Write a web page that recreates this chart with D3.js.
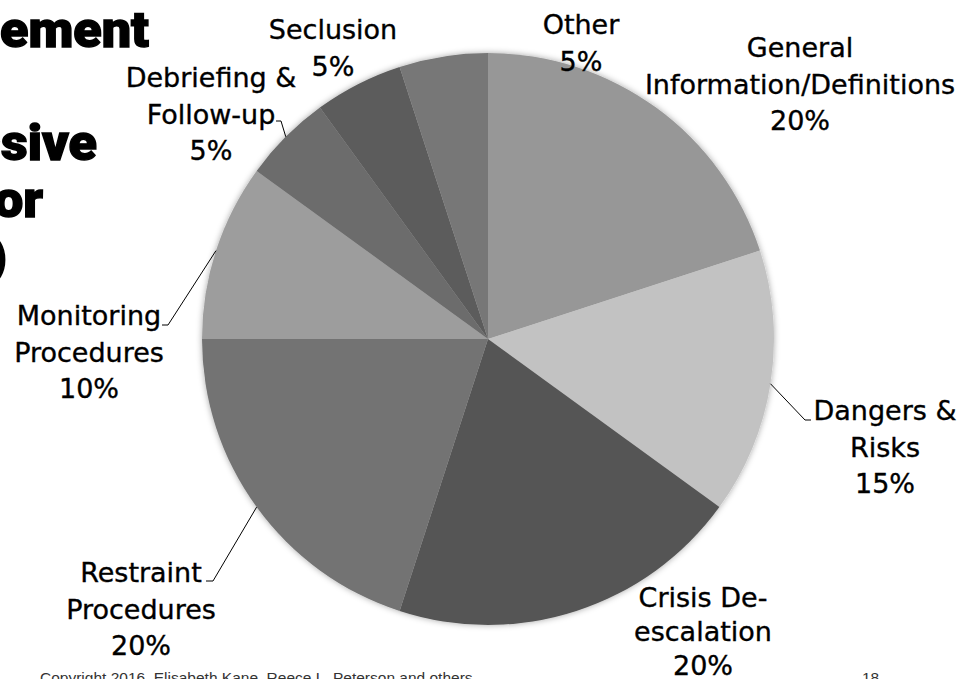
<!DOCTYPE html>
<html>
<head>
<meta charset="utf-8">
<script src="https://cdn.jsdelivr.net/npm/d3@7"></script>
<style>
  html, body { margin: 0; padding: 0; background: #ffffff; overflow: hidden; }
  svg { display: block; }
</style>
</head>
<body>
<svg id="chart" width="971" height="679"></svg>
<script>
// ---- data ----
const categories = ["General Information/Definitions", "Dangers & Risks", "Crisis De-escalation",
  "Restraint Procedures", "Monitoring Procedures", "Debriefing & Follow-up", "Seclusion", "Other"];
const labelLines = [["General", "Information/Definitions"], ["Dangers &", "Risks"], ["Crisis De-", "escalation"],
  ["Restraint", "Procedures"], ["Monitoring", "Procedures"], ["Debriefing &", "Follow-up"], ["Seclusion"], ["Other"]];
const values = [20, 15, 20, 20, 10, 5, 5, 5];
const titleLines = ["Management", "Aggressive", "Behavior", "(MAB)"];
const footerText = "Copyright 2016, Elisabeth Kane, Reece L. Peterson and others";
const pageNumber = "18";

// ---- styles / layout ----
const colors = ["#979797", "#c2c2c2", "#555555", "#737373", "#9d9d9d", "#6c6c6c", "#5b5b5b", "#777777"];
const cx = 488, cy = 339, R = 286;
// label anchor: centre x, first baseline y, line gap
const labelPos = [[800, 57, 36.5], [885, 420, 36.5], [703, 607, 34], [141, 582, 36.5],
  [89, 325, 36.5], [211, 87, 36.5], [333, 39, 36.5], [581, 34, 36.5]];
// leader line elbows (null = no leader)
const leaders = [null, [[805, 420], [811, 420]], null, [[213, 581], [206, 581]],
  [[168, 325], [162, 325]], [[281, 121], [276, 121]], null, null];
const titlePos = [[149, 47], [97, 160], [43, 217], [7, 274]];

const svg = d3.select("#chart");

// title text (partially off-slide on the left)
const titleG = svg.append("g");
const tt = titleG.selectAll("text").data(titleLines).join("text")
  .attr("text-anchor", "end")
  .attr("font-family", "Roboto, 'DejaVu Sans', sans-serif")
  .attr("font-weight", 900)
  .attr("font-size", 50)
  .attr("fill", "#000")
  .attr("stroke", "#000")
  .attr("stroke-width", 1.4)
  .text(d => d);
// stretch horizontally so "ement" spans the visible width like the reference
const first = tt.node();
const n = titleLines[0].length;
const w = first.getSubStringLength(n - 5, 5);
const sx = 149 / w;
tt.attr("transform", (d, i) => `translate(${titlePos[i][0]},${titlePos[i][1]}) scale(${sx},1)`);

// shadow filter
const defs = svg.append("defs");
const f = defs.append("filter").attr("id", "shadow").attr("x", "-10%").attr("y", "-10%").attr("width", "120%").attr("height", "120%");
f.append("feGaussianBlur").attr("in", "SourceAlpha").attr("stdDeviation", 3).attr("result", "blur");
f.append("feFlood").attr("flood-color", "#000").attr("flood-opacity", 0.35);
f.append("feComposite").attr("in2", "blur").attr("operator", "in").attr("result", "shadow");
const merge = f.append("feMerge");
merge.append("feMergeNode").attr("in", "shadow");
merge.append("feMergeNode").attr("in", "SourceGraphic");

const pie = d3.pie().sort(null).value(d => d)(values);
const arc = d3.arc().innerRadius(0).outerRadius(R);

const g = svg.append("g").attr("transform", `translate(${cx},${cy})`).attr("filter", "url(#shadow)");
g.selectAll("path").data(pie).join("path")
  .attr("d", arc)
  .attr("fill", (d, i) => colors[i]);

// leader lines
const edgePoint = d => {
  const a = (d.startAngle + d.endAngle) / 2;
  return [cx + R * Math.sin(a), cy - R * Math.cos(a)];
};
pie.forEach((d, i) => {
  if (!leaders[i]) return;
  const pts = [edgePoint(d)].concat(leaders[i]);
  svg.append("path")
    .attr("d", d3.line()(pts))
    .attr("fill", "none")
    .attr("stroke", "#000")
    .attr("stroke-width", 1);
});

// labels
const fmt = d3.format(".0%");
const total = d3.sum(values);
pie.forEach((d, i) => {
  const lines = labelLines[i].concat([fmt(values[i] / total)]);
  const t = svg.append("text")
    .attr("text-anchor", "middle")
    .attr("font-family", "'DejaVu Sans', sans-serif")
    .attr("font-size", 27)
    .attr("fill", "#000")
    .attr("stroke", "#000")
    .attr("stroke-width", 0.35);
  lines.forEach((ln, j) => {
    t.append("tspan").attr("x", labelPos[i][0]).attr("y", labelPos[i][1] + j * labelPos[i][2]).text(ln);
  });
});

// footer
svg.append("text").attr("x", 40).attr("y", 683)
  .attr("font-family", "'Liberation Sans', Arial, sans-serif").attr("font-size", 15.5)
  .attr("fill", "#333").text(footerText);
svg.append("text").attr("x", 862).attr("y", 683)
  .attr("font-family", "'Liberation Sans', Arial, sans-serif").attr("font-size", 15.5)
  .attr("fill", "#333").text(pageNumber);
</script>
</body>
</html>
